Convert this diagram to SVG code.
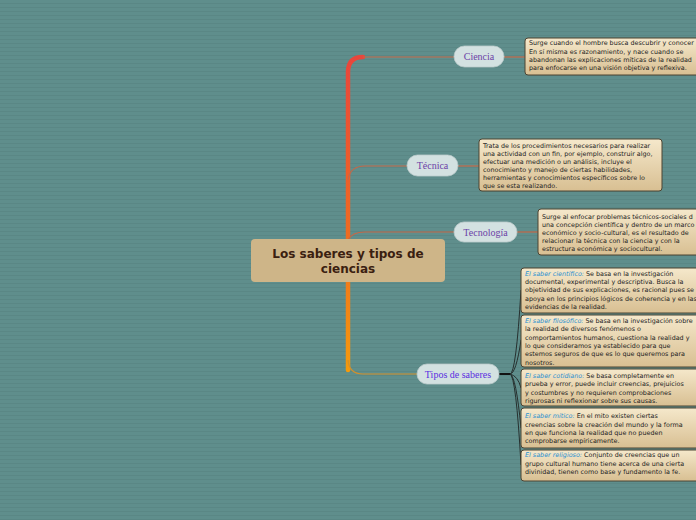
<svg xmlns="http://www.w3.org/2000/svg" width="696" height="520" viewBox="0 0 696 520">
<defs>
<pattern id="stripes" width="8" height="4" patternUnits="userSpaceOnUse">
<rect width="8" height="4" fill="#5f8e8c"/>
<rect y="3" width="8" height="1" fill="#5a8785"/>
</pattern>
<linearGradient id="trunk" x1="0" y1="0" x2="0" y2="1">
<stop offset="0" stop-color="#e8463c"/>
<stop offset="0.55" stop-color="#ee6a22"/>
<stop offset="1" stop-color="#f59a0c"/>
</linearGradient>
<linearGradient id="note" x1="0" y1="0" x2="0" y2="1">
<stop offset="0" stop-color="#f5e8cb"/>
<stop offset="1" stop-color="#d8bf92"/>
</linearGradient>
</defs>
<style>
.pill{fill:#d3e1e1;stroke:#bccccc;stroke-width:0.8}
.ptxt{font-family:"Liberation Serif",serif;font-size:10px;text-anchor:middle}
.note{fill:url(#note);stroke:#4d4433;stroke-width:1}
.ntxt{font-family:"DejaVu Sans",Verdana,sans-serif;font-size:6.4px;fill:#222}
.lbl{fill:#2a8fd0;font-style:italic}
.br{fill:none;stroke:#c46848;stroke-width:1.2}
.sub{fill:none;stroke:#26302f;stroke-width:1}
</style>
<rect width="696" height="520" fill="url(#stripes)"/>

<g id="connectors">
<path d="M348 370 V72 Q348 57 363 57" fill="none" stroke="url(#trunk)" stroke-width="4.5" stroke-linecap="round"/>
<path d="M363 57 H454" class="br"/>
<path d="M348 180 Q350 166 365 166 H407" class="br"/>
<path d="M348 240 Q352 232 365 232 H454" class="br"/>
<path d="M348 360 Q349 374 363 374 H417" fill="none" stroke="#d4902a" stroke-width="1.2"/>
<path d="M504 57 H525" class="br"/>
<path d="M458 166 H479" class="br"/>
<path d="M517 232 H538" class="br"/>
<path d="M499 374 H511" fill="none" stroke="#111" stroke-width="2"/>
<path d="M510 374 Q516 374 521 290" class="sub"/>
<path d="M510 374 Q516 374 521 340" class="sub"/>
<path d="M510 374 Q518 376 521 388" class="sub"/>
<path d="M510 374 Q516 376 521 428" class="sub"/>
<path d="M510 374 Q516 376 521 465" class="sub"/>
</g>

<g id="central">
<rect x="251" y="239" width="194" height="43" rx="4" fill="#ceb588"/>
<text x="348" y="258" font-family="DejaVu Sans,Verdana,sans-serif" font-size="12" font-weight="bold" fill="#3b2010" text-anchor="middle">Los saberes y tipos de</text>
<text x="348" y="273" font-family="DejaVu Sans,Verdana,sans-serif" font-size="12" font-weight="bold" fill="#3b2010" text-anchor="middle">ciencias</text>
</g>

<g id="ciencia">
<rect x="454" y="46" width="50" height="21" rx="10.5" class="pill"/>
<text x="479" y="60" class="ptxt" fill="#6b3fa6">Ciencia</text>
</g>
<g id="tecnica">
<rect x="407" y="155" width="51" height="21" rx="10.5" class="pill"/>
<text x="432.5" y="169" class="ptxt" fill="#6b3fa6">Técnica</text>
</g>
<g id="tecnologia">
<rect x="454" y="222" width="63" height="20" rx="10" class="pill"/>
<text x="485.5" y="235.5" class="ptxt" fill="#6b3fa6">Tecnología</text>
</g>
<g id="tipos">
<rect x="417" y="364" width="82" height="20" rx="10" class="pill"/>
<text x="458" y="377.5" class="ptxt" fill="#5a2fe0">Tipos de saberes</text>
</g>

<g id="note-ciencia">
<rect x="525" y="38" width="180" height="37" rx="3" class="note"/>
<text class="ntxt" x="529" y="45.3">Surge cuando el hombre busca descubrir y conocer</text>
<text class="ntxt" x="529" y="53.6">En sí misma es razonamiento, y nace cuando se</text>
<text class="ntxt" x="529" y="61.9">abandonan las explicaciones míticas de la realidad</text>
<text class="ntxt" x="529" y="70.2">para enfocarse en una visión objetiva y reflexiva.</text>
</g>

<g id="note-tecnica">
<rect x="479" y="139" width="183" height="52" rx="3" class="note"/>
<text class="ntxt" x="483" y="148.2">Trata de los procedimientos necesarios para realizar</text>
<text class="ntxt" x="483" y="156.2">una actividad con un fin, por ejemplo, construir algo,</text>
<text class="ntxt" x="483" y="164.2">efectuar una medición o un análisis, incluye el</text>
<text class="ntxt" x="483" y="172.2">conocimiento y manejo de ciertas habilidades,</text>
<text class="ntxt" x="483" y="180.2">herramientas y conocimientos específicos sobre lo</text>
<text class="ntxt" x="483" y="188.2">que se esta realizando.</text>
</g>

<g id="note-tecnologia">
<rect x="538" y="209" width="170" height="46" rx="3" class="note"/>
<text class="ntxt" x="542" y="218.5">Surge al enfocar problemas técnicos-sociales d</text>
<text class="ntxt" x="542" y="226.7">una concepción científica y dentro de un marco</text>
<text class="ntxt" x="542" y="234.9">económico y socio-cultural, es el resultado de</text>
<text class="ntxt" x="542" y="243.1">relacionar la técnica con la ciencia y con la</text>
<text class="ntxt" x="542" y="251.3">estructura económica y sociocultural.</text>
</g>

<g id="note-cientifico">
<rect x="521" y="268" width="185" height="45" rx="3" class="note"/>
<text class="ntxt" x="525" y="276"><tspan class="lbl">El saber científico:</tspan> Se basa en la investigación</text>
<text class="ntxt" x="525" y="284.2">documental, experimental y descriptiva. Busca la</text>
<text class="ntxt" x="525" y="292.4">objetividad de sus explicaciones, es racional pues se</text>
<text class="ntxt" x="525" y="300.6">apoya en los principios lógicos de coherencia y en las</text>
<text class="ntxt" x="525" y="308.8">evidencias de la realidad.</text>
</g>

<g id="note-filosofico">
<rect x="521" y="315" width="185" height="52" rx="3" class="note"/>
<text class="ntxt" x="525" y="323"><tspan class="lbl">El saber filosófico:</tspan> Se basa en la investigación sobre</text>
<text class="ntxt" x="525" y="331.3">la realidad de diversos fenómenos o</text>
<text class="ntxt" x="525" y="339.6">comportamientos humanos, cuestiona la realidad y</text>
<text class="ntxt" x="525" y="347.9">lo que consideramos ya establecido para que</text>
<text class="ntxt" x="525" y="356.2">estemos seguros de que es lo que queremos para</text>
<text class="ntxt" x="525" y="364.5">nosotros.</text>
</g>

<g id="note-cotidiano">
<rect x="521" y="369" width="185" height="37" rx="3" class="note"/>
<text class="ntxt" x="525" y="378"><tspan class="lbl">El saber cotidiano:</tspan> Se basa completamente en</text>
<text class="ntxt" x="525" y="386.3">prueba y error, puede incluir creencias, prejuicios</text>
<text class="ntxt" x="525" y="394.6">y costumbres y no requieren comprobaciones</text>
<text class="ntxt" x="525" y="402.9">rigurosas ni reflexionar sobre sus causas.</text>
</g>

<g id="note-mitico">
<rect x="521" y="408" width="185" height="40" rx="3" class="note"/>
<text class="ntxt" x="525" y="418.3"><tspan class="lbl">El saber mítico:</tspan> En el mito existen ciertas</text>
<text class="ntxt" x="525" y="426.6">creencias sobre la creación del mundo y la forma</text>
<text class="ntxt" x="525" y="434.9">en que funciona la realidad que no pueden</text>
<text class="ntxt" x="525" y="443.2">comprobarse empíricamente.</text>
</g>

<g id="note-religioso">
<rect x="521" y="450" width="185" height="31" rx="3" class="note"/>
<text class="ntxt" x="525" y="457.4"><tspan class="lbl">El saber religioso:</tspan> Conjunto de creencias que un</text>
<text class="ntxt" x="525" y="465.7">grupo cultural humano tiene acerca de una cierta</text>
<text class="ntxt" x="525" y="474">divinidad, tienen como base y fundamento la fe.</text>
</g>
</svg>
